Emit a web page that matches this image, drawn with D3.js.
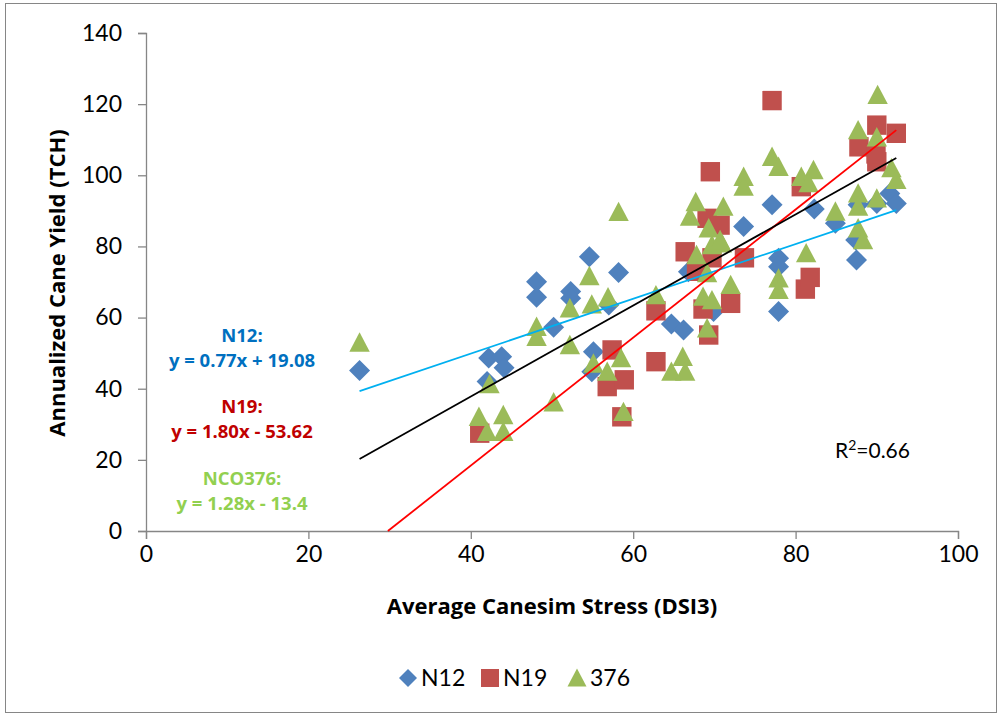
<!DOCTYPE html>
<html>
<head>
<meta charset="utf-8">
<script src="https://d3js.org/d3.v7.min.js"></script>
<style>
    body { margin: 0; background: #fff; }
    text { font-family: Lato, "Open Sans", sans-serif; fill: #000; }
    .axis path, .axis line { stroke: #868686; stroke-width: 1.3px; }
    .axis text { font-size: 23px; }
    .bold { font-family: "Open Sans", sans-serif; font-weight: bold; }
</style>
</head>
<body>
<svg id="chart" width="1002" height="716"></svg>
<script>
// values: [DSI3, TCH]
var n12 = [[26.3,45.1],[42.2,48.6],[43.8,49.0],[44.1,45.9],[42.0,42.0],[48.1,70.1],[48.1,65.7],
    [50.2,57.3],[52.3,67.3],[52.3,65.4],[54.6,77.1],[55.1,50.4],[54.9,44.8],[57.0,63.5],[58.2,72.7],
    [64.7,58.2],[66.2,56.5],[66.8,72.9],[69.9,61.7],[73.6,85.6],[77.1,91.7],[77.9,76.7],[77.9,74.3],
    [77.9,61.7],[82.3,90.5],[84.9,86.5],[87.5,76.2],[87.4,81.8],[87.7,91.7],[90.0,92.1],[91.6,94.9],[92.4,92.1]];
var n19 = [[41.1,27.5],[56.8,40.6],[57.4,50.9],[58.9,42.5],[58.6,32.1],[62.8,61.9],[62.8,47.6],
    [66.4,78.5],[67.8,73.0],[68.6,62.4],[69.3,55.1],[69.1,87.9],[69.5,101.0],[70.7,86.0],[69.7,76.8],
    [72.0,64.0],[73.7,76.8],[77.1,121.0],[80.7,96.8],[81.2,68.0],[81.8,71.3],[87.8,108.0],[90.0,114.1],
    [92.4,111.8],[90.0,103.8],[89.9,106.0]];
var nco376 = [[26.3,53.0],[42.3,41.3],[41.0,32.1],[44.0,32.6],[42.0,27.9],[44.0,27.9],[48.1,57.4],
    [48.1,54.6],[50.2,36.2],[52.2,62.6],[52.2,52.3],[54.6,71.7],[54.9,63.7],[55.1,47.1],[56.9,65.7],
    [56.8,44.8],[58.2,89.7],[58.5,48.6],[58.8,33.5],[62.8,66.3],[64.7,44.8],[66.1,49.0],[66.4,44.8],
    [67.0,88.4],[67.7,92.5],[67.8,77.6],[68.6,65.9],[69.7,64.9],[69.1,57.0],[69.1,72.5],[69.7,80.4],
    [70.9,80.9],[69.3,85.1],[70.7,81.8],[71.1,91.2],[72.0,69.2],[73.6,99.6],[73.6,96.8],[77.1,105.2],
    [77.9,102.4],[77.9,71.0],[77.9,67.8],[80.7,99.6],[82.2,101.5],[81.6,97.8],[81.3,78.1],[84.9,89.8],
    [87.7,112.7],[87.7,94.9],[87.7,91.2],[87.7,85.1],[88.3,81.8],[90.0,110.7],[90.1,122.6],[90.0,93.5],
    [91.8,102.0],[92.4,98.7]];

// trendlines: [slope, intercept, xStart, xEnd]
var fitN12 = [0.77, 19.08, 26.3, 92.4];
var fitN19 = [1.80, -53.62, 53.62 / 1.80, 92.4];
var fit376 = [1.28, -13.4, 26.3, 92.4];

var xTicks = [0, 20, 40, 60, 80, 100];
var yTicks = [0, 20, 40, 60, 80, 100, 120, 140];
var legendNames = ["N12", "N19", "376"];
var eqLabels = [["N12:", "y = 0.77x + 19.08"], ["N19:", "y = 1.80x - 53.62"], ["NCO376:", "y = 1.28x - 13.4"]];

var svg = d3.select("#chart");

// outer chart border
svg.append("rect").attr("x", 5.5).attr("y", 3.5).attr("width", 991).attr("height", 709)
    .attr("fill", "#fff").attr("stroke", "#868686").attr("stroke-width", 1);

var x = d3.scaleLinear().domain([0, 100]).range([146, 958]);
var y = d3.scaleLinear().domain([0, 140]).range([531, 33]);

svg.append("g").attr("class", "axis").attr("transform", "translate(0,531)")
    .call(d3.axisBottom(x).tickValues(xTicks).tickSizeOuter(0).tickSize(8).tickPadding(7));
svg.append("g").attr("class", "axis").attr("transform", "translate(146,0)")
    .call(d3.axisLeft(y).tickValues(yTicks).tickSizeOuter(0).tickSize(8).tickPadding(16));

// marker shapes
function diamond(s) { return "M0," + -s + "L" + s + ",0L0," + s + "L" + -s + ",0Z"; }
function square(s) { return "M" + -s + "," + -s + "H" + s + "V" + s + "H" + -s + "Z"; }
function triangle(s) { return "M0," + -s + "L" + s + "," + (s * 0.9) + "L" + -s + "," + (s * 0.9) + "Z"; }

var series = [
    { data: n12, shape: diamond(10.5), color: "#4F81BD" },
    { data: n19, shape: square(9.7), color: "#C0504D" },
    { data: nco376, shape: triangle(10.2), color: "#9BBB59" }
];

series.forEach(function (s) {
    svg.append("g").selectAll("path").data(s.data).enter().append("path")
        .attr("d", s.shape)
        .attr("transform", function (d) { return "translate(" + x(d[0]) + "," + y(d[1]) + ")"; })
        .attr("fill", s.color);
});

var fits = [[fitN12, "#00B0F0"], [fitN19, "#FF0000"], [fit376, "#000000"]];
fits.forEach(function (f) {
    var p = f[0];
    svg.append("line")
        .attr("x1", x(p[2])).attr("y1", y(p[0] * p[2] + p[1]))
        .attr("x2", x(p[3])).attr("y2", y(p[0] * p[3] + p[1]))
        .attr("stroke", f[1]).attr("stroke-width", 1.8);
});

// equation labels
var eqColors = ["#0070C0", "#C00000", "#92D050"];
var eqY = [342, 413, 485];
eqLabels.forEach(function (e, i) {
    svg.append("text").attr("class", "bold").attr("x", 242).attr("y", eqY[i]).attr("text-anchor", "middle")
        .style("font-size", "18.5px").style("fill", eqColors[i]).text(e[0]);
    svg.append("text").attr("class", "bold").attr("x", 242).attr("y", eqY[i] + 25).attr("text-anchor", "middle")
        .style("font-size", "18.5px").style("fill", eqColors[i]).text(e[1]);
});

var r2 = svg.append("text").attr("x", 835).attr("y", 458).style("font-size", "21px");
r2.append("tspan").text("R");
r2.append("tspan").attr("dy", -8).style("font-size", "14px").text("2");
r2.append("tspan").attr("dy", 8).text("=0.66");

// axis titles
svg.append("text").attr("class", "bold").attr("x", 552).attr("y", 614).attr("text-anchor", "middle")
    .style("font-size", "22px").text("Average Canesim Stress (DSI3)");
svg.append("text").attr("class", "bold").attr("transform", "translate(65,283) rotate(-90)").attr("text-anchor", "middle")
    .style("font-size", "22px").text("Annualized Cane Yield (TCH)");

// legend
var legX = [408, 490, 577];
var legShapes = [diamond(9), square(9), triangle(9.5)];
var legColors = ["#4F81BD", "#C0504D", "#9BBB59"];
legendNames.forEach(function (n, i) {
    svg.append("path").attr("d", legShapes[i]).attr("fill", legColors[i])
        .attr("transform", "translate(" + legX[i] + ",678)");
    svg.append("text").attr("x", legX[i] + 13).attr("y", 686).style("font-size", "23px").text(n);
});
</script>
</body>
</html>
